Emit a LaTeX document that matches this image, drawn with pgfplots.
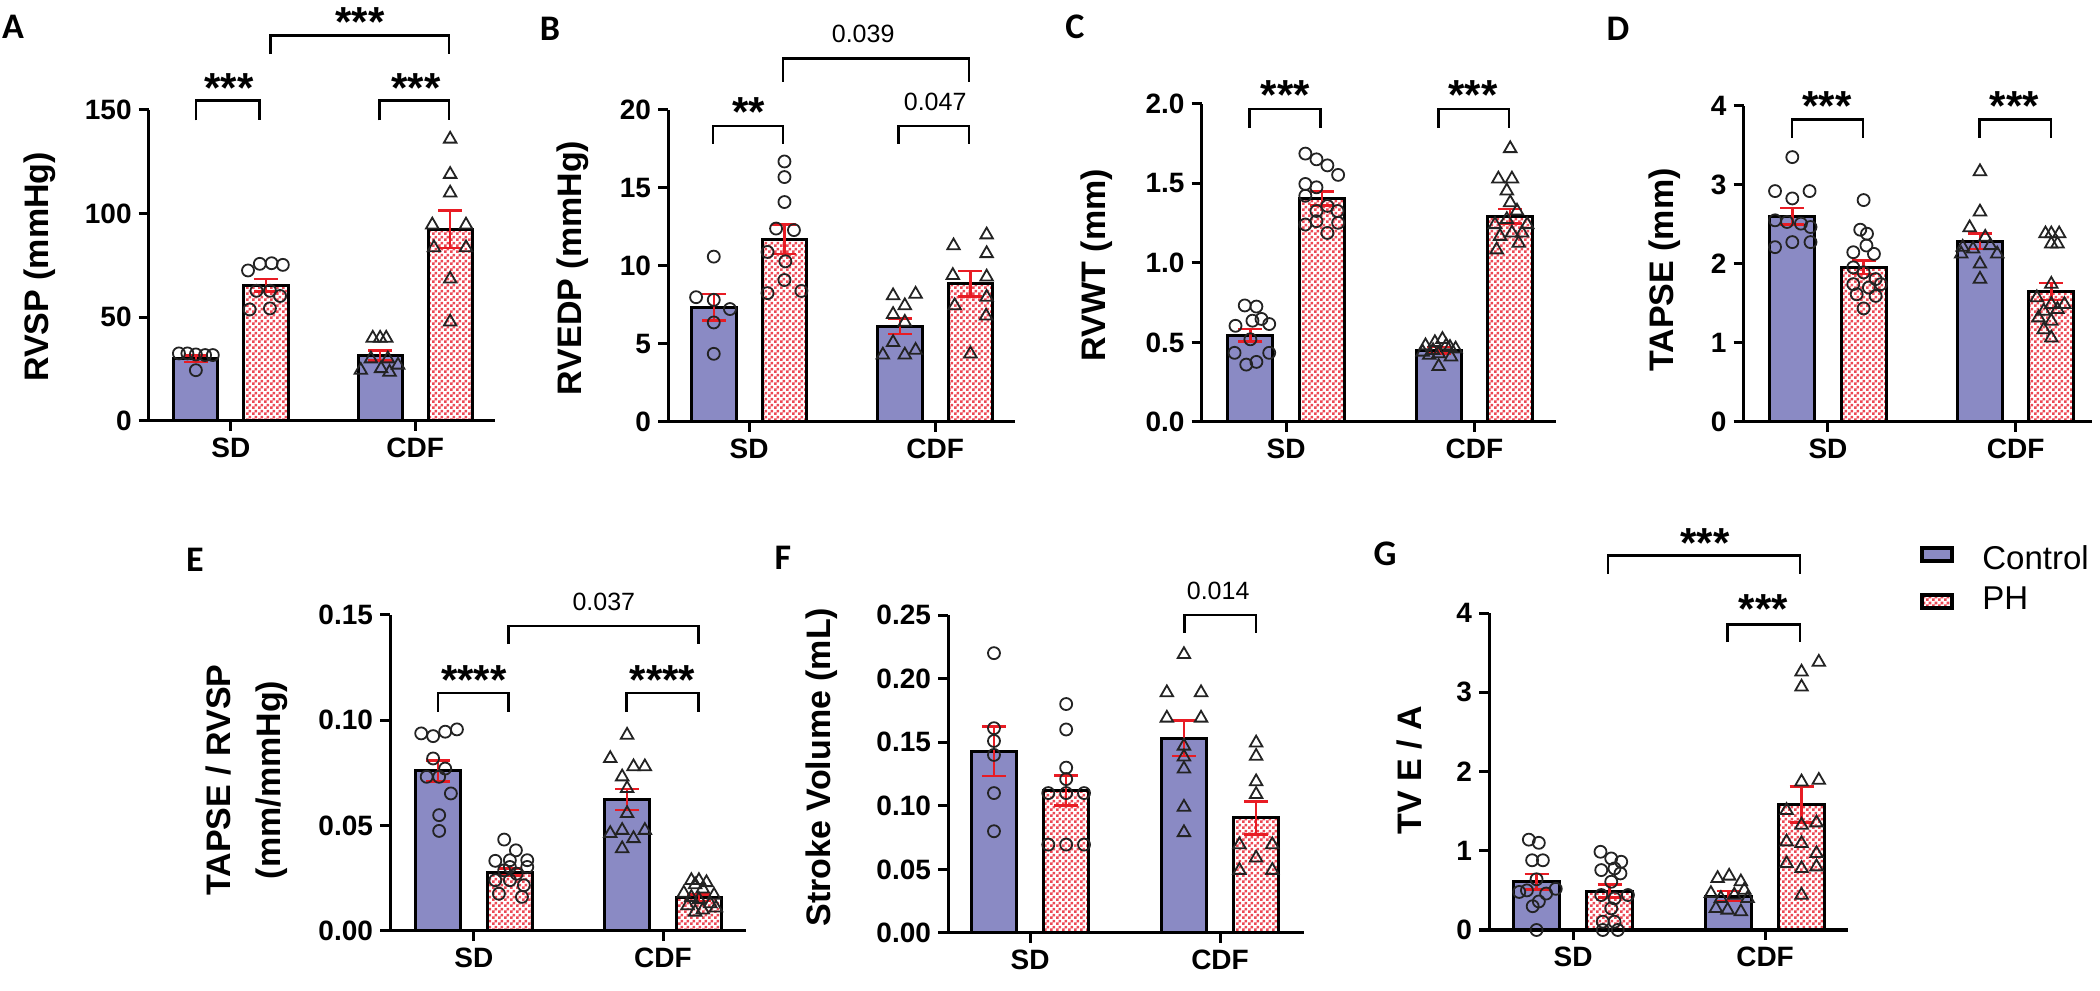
\documentclass[border=0pt]{standalone}
\usepackage{pgfplots}
\pgfplotsset{compat=1.18}
\usepackage{fontspec}
\setmainfont{Liberation Sans}
\newfontfamily\carlito{Carlito}
\usetikzlibrary{patterns}
\definecolor{ctrl}{RGB}{138,138,196}
\definecolor{phred}{RGB}{236,72,84}
\definecolor{semred}{RGB}{232,28,36}
\definecolor{markgray}{RGB}{35,35,35}
\pgfdeclarepatternformonly{checker}{\pgfpointorigin}{\pgfpoint{3pt}{3pt}}{\pgfpoint{3pt}{3pt}}{%
  \pgfpathrectangle{\pgfpointorigin}{\pgfpoint{1.5pt}{1.5pt}}%
  \pgfpathrectangle{\pgfpoint{1.5pt}{1.5pt}}{\pgfpoint{1.5pt}{1.5pt}}%
  \pgfusepath{fill}}
\pgfplotsset{
  gp/.style={
    scale only axis, anchor=south west,
    axis x line*=bottom, axis y line*=left,
    axis line style={line width=1.5pt, black},
    tick align=outside, major tick length=5pt,
    tick style={line width=1.5pt, black},
    xtick={0,1}, xticklabels={SD,CDF},
    tick label style={font=\bfseries\fontsize{14}{14}\selectfont, black},
    ymin=0, clip=false, enlargelimits=false,
  },
  ctrlbar/.style={ybar, bar width=0.24, bar shift=0pt, fill=ctrl, draw=black, line width=1.5pt},
  phbar/.style={ybar, bar width=0.24, bar shift=0pt, pattern=checker, pattern color=phred, draw=black, line width=1.5pt},
  circ/.style={only marks, mark=o, mark size=3pt, mark options={draw=markgray, line width=0.9pt}},
  tri/.style={only marks, mark=triangle, mark size=3.6pt, mark options={draw=markgray, line width=0.9pt}},
  sem/.style={sharp plot, draw=none, mark=none,
    error bars/.cd, y dir=both, y explicit,
    error bar style={draw=semred, line width=1.25pt},
    error mark options={rotate=90, mark size=6pt, line width=1.25pt, draw=semred}},
}
\newcommand{\bracket}[4]{\draw[line width=1.2pt] (axis cs:#1,#4) -- (axis cs:#1,#3) -- (axis cs:#2,#3) -- (axis cs:#2,#4);}
\newcommand{\stars}[3]{\node[font=\bfseries\fontsize{21}{21}\selectfont, inner sep=0pt, yshift=-4.4pt] at (axis cs:#1,#2) {#3};}
\newcommand{\pval}[3]{\node[font=\fontsize{12.5}{12.5}\selectfont, inner sep=0pt] at (axis cs:#1,#2) {#3};}
\begin{document}
\begin{tikzpicture}
\useasboundingbox (0,0) rectangle (1050pt,495.5pt);
% ---------------- A ----------------
\begin{axis}[gp, at={(74.35pt,285pt)}, width=173.3pt, height=155.5pt,
  xmin=-0.446, xmax=1.435, ymax=150, ytick={0,50,100,150}, yticklabels={0,50,100,150}]
\addplot[ctrlbar] coordinates {(-0.19,30) (0.81,31.5)};
\addplot[phbar] coordinates {(0.19,65.5) (1.19,92.5)};
\addplot[circ] coordinates {(-0.282,32.6) (-0.236,32.6) (-0.19,32.1) (-0.14,31.8) (-0.098,31.8) (-0.19,24.5)};
\addplot[circ] coordinates {(0.093,72.6) (0.157,75.8) (0.221,76.1) (0.282,75.3) (0.102,53.8) (0.212,54.3) (0.267,60.3) (0.139,62.8) (0.212,62.8)};
\addplot[tri] coordinates {(0.77,40) (0.81,40) (0.843,40) (0.76,30) (0.852,30) (0.705,24.5) (0.815,25.3) (0.907,27) (0.861,23.6)};
\addplot[tri] coordinates {(1.19,136) (1.19,119) (1.19,110) (1.093,94.6) (1.276,94.6) (1.102,83.6) (1.276,83.6) (1.19,68.5) (1.19,47.8)};
\addplot[sem] coordinates {(-0.19,30) +- (0,1.5) (0.19,65.5) +- (0,3) (0.81,31.5) +- (0,2.4) (1.19,92.5) +- (0,9)};
\bracket{-0.189}{0.156}{154.6}{145}
\stars{-0.011}{164.7}{***}
\bracket{0.806}{1.183}{154.6}{145}
\stars{1.004}{164.7}{***}
\bracket{0.215}{1.183}{185.9}{176.9}
\stars{0.70}{196.5}{***}
\end{axis}
% ---------------- B ----------------
\begin{axis}[gp, at={(334pt,284.5pt)}, width=173.65pt, height=156pt,
  xmin=-0.436, xmax=1.431, ymax=20, ytick={0,5,10,15,20}, yticklabels={0,5,10,15,20}]
\addplot[ctrlbar] coordinates {(-0.19,7.35) (0.81,6.14)};
\addplot[phbar] coordinates {(0.19,11.72) (1.19,8.86)};
\addplot[circ] coordinates {(-0.19,10.6) (-0.285,8.0) (-0.19,7.83) (-0.103,7.24) (-0.19,6.38) (-0.19,4.37)};
\addplot[circ] coordinates {(0.19,16.7) (0.19,15.7) (0.19,14.1) (0.145,12.4) (0.241,12.3) (0.099,10.9) (0.195,10.3) (0.19,9.1) (0.099,8.26) (0.281,8.4)};
\addplot[tri] coordinates {(0.774,8.1) (0.895,8.2) (0.837,7.46) (0.774,6.9) (0.837,6.4) (0.774,5.1) (0.719,4.3) (0.837,4.3) (0.895,4.6)};
\addplot[tri] coordinates {(1.277,12.0) (1.099,11.3) (1.277,10.8) (1.095,9.4) (1.277,9.3) (1.277,8.0) (1.105,7.46) (1.274,6.8) (1.19,4.37)};
\addplot[sem] coordinates {(-0.19,7.35) +- (0,0.85) (0.19,11.72) +- (0,0.95) (0.81,6.14) +- (0,0.5) (1.19,8.86) +- (0,0.82)};
\bracket{-0.193}{0.182}{18.98}{17.84}
\stars{-0.004}{20.43}{**}
\bracket{0.804}{1.182}{18.98}{17.84}
\pval{1.0}{20.54}{0.047}
\bracket{0.182}{1.182}{23.3}{21.8}
\pval{0.613}{24.86}{0.039}
\end{axis}
% ---------------- C ----------------
\begin{axis}[gp, at={(600.8pt,284.5pt)}, width=177pt, height=159pt,
  xmin=-0.449, xmax=1.431, ymax=2, ytick={0,0.5,1,1.5,2}, yticklabels={0.0,0.5,1.0,1.5,2.0}]
\addplot[ctrlbar] coordinates {(-0.19,0.546) (0.81,0.452)};
\addplot[phbar] coordinates {(0.19,1.406) (1.19,1.295)};
\addplot[circ] coordinates {(-0.22,0.733) (-0.158,0.726) (-0.269,0.605) (-0.179,0.637) (-0.131,0.648) (-0.09,0.616) (-0.274,0.435) (-0.212,0.361) (-0.158,0.378) (-0.09,0.435) (-0.19,0.52)};
\addplot[circ] coordinates {(0.102,1.688) (0.161,1.652) (0.219,1.614) (0.276,1.554) (0.102,1.497) (0.161,1.476) (0.102,1.423) (0.219,1.359) (0.273,1.327) (0.161,1.263) (0.102,1.242) (0.219,1.189) (0.276,1.253) (0.161,1.327)};
\addplot[tri] coordinates {(0.83,0.52) (0.79,0.50) (0.74,0.48) (0.87,0.47) (0.90,0.46) (0.725,0.44) (0.81,0.43) (0.76,0.42) (0.875,0.41) (0.81,0.35) (0.85,0.48) (0.78,0.45)};
\addplot[tri] coordinates {(1.19,1.72) (1.127,1.529) (1.199,1.529) (1.172,1.454) (1.19,1.38) (1.226,1.327) (1.109,1.242) (1.172,1.274) (1.28,1.242) (1.136,1.168) (1.235,1.125) (1.118,1.083) (1.199,1.189) (1.253,1.189)};
\addplot[sem] coordinates {(-0.19,0.546) +- (0,0.04) (0.19,1.406) +- (0,0.043) (0.81,0.452) +- (0,0.02) (1.19,1.295) +- (0,0.046)};
\bracket{-0.194}{0.183}{1.97}{1.851}
\stars{-0.005}{2.113}{***}
\bracket{0.808}{1.185}{1.97}{1.851}
\stars{0.993}{2.113}{***}
\end{axis}
% ---------------- D ----------------
\begin{axis}[gp, at={(871.75pt,284.5pt)}, width=174.25pt, height=158pt,
  xmin=-0.45, xmax=1.407, ymax=4, ytick={0,1,2,3,4}, yticklabels={0,1,2,3,4}]
\addplot[ctrlbar] coordinates {(-0.19,2.604) (0.81,2.289)};
\addplot[phbar] coordinates {(0.19,1.957) (1.19,1.651)};
\addplot[circ] coordinates {(-0.19,3.353) (-0.282,2.923) (-0.19,2.83) (-0.098,2.923) (-0.282,2.553) (-0.218,2.532) (-0.144,2.511) (-0.093,2.468) (-0.282,2.213) (-0.19,2.277) (-0.093,2.277)};
\addplot[circ] coordinates {(0.19,2.809) (0.172,2.434) (0.208,2.383) (0.135,2.149) (0.205,2.234) (0.245,2.128) (0.135,1.957) (0.19,1.894) (0.254,1.809) (0.135,1.745) (0.218,1.702) (0.254,1.596) (0.153,1.617) (0.19,1.438) (0.282,1.745)};
\addplot[tri] coordinates {(0.81,3.17) (0.81,2.66) (0.755,2.46) (0.838,2.34) (0.718,2.213) (0.773,2.191) (0.865,2.234) (0.902,2.128) (0.71,2.128) (0.81,2.0) (0.81,1.809)};
\addplot[tri] coordinates {(1.159,2.383) (1.19,2.383) (1.232,2.383) (1.19,2.255) (1.223,2.255) (1.19,1.745) (1.113,1.574) (1.19,1.489) (1.26,1.489) (1.15,1.404) (1.223,1.426) (1.122,1.319) (1.19,1.277) (1.15,1.17) (1.19,1.064)};
\addplot[sem] coordinates {(-0.19,2.604) +- (0,0.107) (0.19,1.957) +- (0,0.085) (0.81,2.289) +- (0,0.1) (1.19,1.651) +- (0,0.107)};
\bracket{-0.193}{0.187}{3.83}{3.596}
\stars{-0.006}{4.106}{***}
\bracket{0.807}{1.187}{3.83}{3.596}
\stars{0.994}{4.106}{***}
\end{axis}
% ---------------- E ----------------
\begin{axis}[gp, at={(195pt,30pt)}, width=178pt, height=158pt,
  xmin=-0.444, xmax=1.439, ymax=0.15, ytick={0,0.05,0.1,0.15}, yticklabels={0.00,0.05,0.10,0.15}]
\addplot[ctrlbar] coordinates {(-0.19,0.076) (0.81,0.0624)};
\addplot[phbar] coordinates {(0.19,0.028) (1.19,0.0158)};
\addplot[circ] coordinates {(-0.279,0.0938) (-0.216,0.0925) (-0.152,0.0946) (-0.09,0.0957) (-0.216,0.0819) (-0.152,0.0771) (-0.25,0.0732) (-0.184,0.0732) (-0.122,0.0653) (-0.184,0.055) (-0.184,0.0475)};
\addplot[circ] coordinates {(0.16,0.0434) (0.222,0.0383) (0.113,0.0333) (0.19,0.0336) (0.282,0.0304) (0.16,0.0288) (0.226,0.0272) (0.113,0.0241) (0.19,0.0241) (0.264,0.0217) (0.132,0.0177) (0.254,0.0162) (0.282,0.0336) (0.19,0.0304)};
\addplot[tri] coordinates {(0.81,0.093) (0.721,0.0819) (0.844,0.078) (0.904,0.078) (0.784,0.0732) (0.81,0.0677) (0.81,0.0558) (0.721,0.0463) (0.784,0.0478) (0.904,0.0478) (0.844,0.0439) (0.784,0.0391)};
\addplot[tri] coordinates {(1.15,0.024) (1.19,0.024) (1.23,0.023) (1.17,0.022) (1.21,0.020) (1.11,0.018) (1.27,0.017) (1.15,0.016) (1.19,0.015) (1.25,0.013) (1.13,0.012) (1.21,0.010) (1.17,0.009) (1.28,0.011)};
\addplot[sem] coordinates {(-0.19,0.076) +- (0,0.005) (0.19,0.028) +- (0,0.0016) (0.81,0.0624) +- (0,0.005) (1.19,0.0158) +- (0,0.0016)};
\bracket{-0.19}{0.183}{0.1131}{0.1041}
\stars{0}{0.1231}{****}
\bracket{0.806}{1.187}{0.1131}{0.1041}
\stars{0.998}{0.1231}{****}
\bracket{0.183}{1.187}{0.1448}{0.1362}
\pval{0.687}{0.1563}{0.037}
\end{axis}
% ---------------- F ----------------
\begin{axis}[gp, at={(474pt,29pt)}, width=178pt, height=159pt,
  xmin=-0.432, xmax=1.442, ymax=0.25, ytick={0,0.05,0.1,0.15,0.2,0.25}, yticklabels={0.00,0.05,0.10,0.15,0.20,0.25}]
\addplot[ctrlbar] coordinates {(-0.19,0.143) (0.81,0.153)};
\addplot[phbar] coordinates {(0.19,0.112) (1.19,0.0905)};
\addplot[circ] coordinates {(-0.19,0.22) (-0.19,0.161) (-0.19,0.151) (-0.19,0.140) (-0.19,0.110) (-0.19,0.080)};
\addplot[circ] coordinates {(0.19,0.18) (0.19,0.16) (0.19,0.13) (0.19,0.121) (0.096,0.11) (0.19,0.11) (0.284,0.11) (0.096,0.0695) (0.19,0.0695) (0.284,0.0695)};
\addplot[tri] coordinates {(0.81,0.219) (0.72,0.189) (0.9,0.189) (0.72,0.169) (0.9,0.169) (0.81,0.147) (0.81,0.1385) (0.81,0.129) (0.81,0.099) (0.81,0.079)};
\addplot[tri] coordinates {(1.19,0.1495) (1.19,0.139) (1.19,0.119) (1.19,0.109) (1.102,0.0695) (1.275,0.0695) (1.19,0.059) (1.102,0.0493) (1.275,0.0493)};
\addplot[sem] coordinates {(-0.19,0.143) +- (0,0.0194) (0.19,0.112) +- (0,0.0118) (0.81,0.153) +- (0,0.014) (1.19,0.0905) +- (0,0.013)};
\bracket{0.812}{1.188}{0.25}{0.2361}
\pval{0.99}{0.2689}{0.014}
\end{axis}
% ---------------- G ----------------
\begin{axis}[gp, at={(744.5pt,30.5pt)}, width=179.5pt, height=158.5pt,
  xmin=-0.4375, xmax=1.432, ymax=4, ytick={0,1,2,3,4}, yticklabels={0,1,2,3,4}]
\addplot[ctrlbar] coordinates {(-0.19,0.609) (0.81,0.429)};
\addplot[phbar] coordinates {(0.19,0.492) (1.19,1.584)};
\addplot[circ] coordinates {(-0.23,1.14) (-0.178,1.10) (-0.213,0.88) (-0.157,0.88) (-0.19,0.64) (-0.09,0.52) (-0.24,0.50) (-0.28,0.48) (-0.14,0.46) (-0.178,0.36) (-0.21,0.30) (-0.19,0.0)};
\addplot[circ] coordinates {(0.143,0.987) (0.199,0.903) (0.251,0.861) (0.147,0.756) (0.216,0.777) (0.247,0.714) (0.199,0.609) (0.147,0.441) (0.216,0.399) (0.286,0.441) (0.199,0.273) (0.155,0.105) (0.216,0.105) (0.155,0.0) (0.233,0.0)};
\addplot[tri] coordinates {(0.753,0.651) (0.813,0.681) (0.874,0.609) (0.718,0.462) (0.77,0.399) (0.84,0.441) (0.892,0.504) (0.744,0.273) (0.805,0.252) (0.874,0.231) (0.909,0.399)};
\addplot[tri] coordinates {(1.28,3.38) (1.19,3.256) (1.19,3.067) (1.19,1.87) (1.28,1.89) (1.112,1.51) (1.19,1.324) (1.268,1.353) (1.112,1.113) (1.19,1.092) (1.268,0.966) (1.112,0.84) (1.19,0.777) (1.268,0.798) (1.19,0.441)};
\addplot[sem] coordinates {(-0.19,0.609) +- (0,0.1) (0.19,0.492) +- (0,0.08) (0.81,0.429) +- (0,0.06) (1.19,1.584) +- (0,0.227)};
\bracket{0.805}{1.183}{3.857}{3.634}
\stars{0.991}{4.16}{***}
\bracket{0.183}{1.183}{4.727}{4.496}
\stars{0.687}{5.0}{***}
\end{axis}
% ---------------- labels ----------------
\begin{scope}[every node/.style={inner sep=0pt}]
\node[font=\carlito\bfseries\fontsize{18}{18}\selectfont] at (6.5pt,482pt) {A};
\node[font=\carlito\bfseries\fontsize{18}{18}\selectfont] at (275pt,481pt) {B};
\node[font=\carlito\bfseries\fontsize{18}{18}\selectfont] at (537.5pt,482pt) {C};
\node[font=\carlito\bfseries\fontsize{18}{18}\selectfont] at (809pt,481pt) {D};
\node[font=\carlito\bfseries\fontsize{18}{18}\selectfont] at (97.5pt,215.5pt) {E};
\node[font=\carlito\bfseries\fontsize{18}{18}\selectfont] at (391.5pt,216.5pt) {F};
\node[font=\carlito\bfseries\fontsize{18}{18}\selectfont] at (692.5pt,218.5pt) {G};
\node[rotate=90, font=\bfseries\fontsize{17}{20}\selectfont] at (20pt,362pt) {RVSP (mmHg)};
\node[rotate=90, font=\bfseries\fontsize{17}{20}\selectfont] at (286.5pt,361.5pt) {RVEDP (mmHg)};
\node[rotate=90, font=\bfseries\fontsize{17}{20}\selectfont] at (548.5pt,363pt) {RVWT (mm)};
\node[rotate=90, font=\bfseries\fontsize{17}{20}\selectfont] at (832.5pt,360.5pt) {TAPSE (mm)};
\node[rotate=90, align=center, font=\bfseries\fontsize{17}{25}\selectfont] at (123.5pt,105.5pt) {TAPSE / RVSP\\(mm/mmHg)};
\node[rotate=90, font=\bfseries\fontsize{17}{20}\selectfont] at (411pt,112pt) {Stroke Volume (mL)};
\node[rotate=90, font=\bfseries\fontsize{17}{20}\selectfont] at (705pt,110.5pt) {TV E / A};
% legend
\draw[line width=2.25pt, fill=ctrl] (961.1pt,215.1pt) rectangle (975.9pt,221.4pt);
\draw[line width=2.25pt, pattern=checker, pattern color=phred] (961.1pt,191.6pt) rectangle (975.9pt,197.9pt);
\node[anchor=base west, font=\fontsize{16.5}{16.5}\selectfont] at (991pt,210.5pt) {Control};
\node[anchor=base west, font=\fontsize{16.5}{16.5}\selectfont] at (991pt,190.85pt) {PH};
\end{scope}
\end{tikzpicture}
\end{document}
